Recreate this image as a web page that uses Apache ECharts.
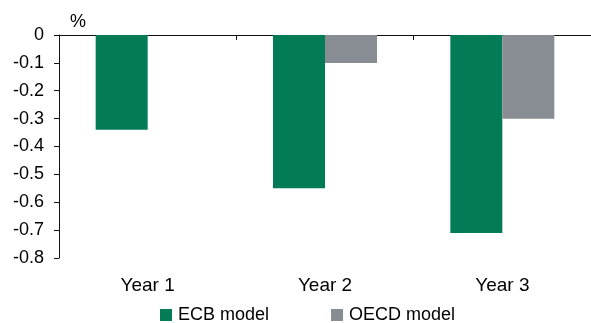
<!DOCTYPE html>
<html>
<head>
<meta charset="utf-8">
<script src="https://cdn.jsdelivr.net/npm/echarts@6/dist/echarts.min.js"></script>
<style>
  html, body { margin: 0; padding: 0; background: #fff; }
  #chart { width: 591px; height: 323px; }
</style>
</head>
<body>
<div id="chart"></div>
<script>
// Impact by year, in percent
const categories = ['Year 1', 'Year 2', 'Year 3'];
const ecbModel = [-0.34, -0.55, -0.71];
const oecdModel = [null, -0.1, -0.3];
const seriesNames = ['ECB model', 'OECD model'];
const unitLabel = '%';

const FONT = '"Liberation Sans", Arial, sans-serif';
const GREEN = '#047b57';
const GREY = '#878d92';

const chart = echarts.init(document.getElementById('chart'), null, { renderer: 'canvas' });

chart.setOption({
  animation: false,
  textStyle: { fontFamily: FONT, color: '#000' },
  grid: { left: 59, right: -4, top: 35, bottom: 65, containLabel: false },
  legend: {
    data: seriesNames,
    left: 160,
    top: 306,
    padding: 0,
    icon: 'rect',
    itemWidth: 12,
    itemHeight: 12,
    itemGap: 62,
    textStyle: { fontFamily: FONT, fontSize: 18, color: '#000', padding: [0, 0, 0, 1] }
  },
  graphic: [{
    type: 'text',
    left: 70,
    top: 13,
    style: { text: unitLabel, font: '18px ' + FONT, fill: '#000' }
  }],
  xAxis: [
    {
      // zero line with category dividers
      type: 'category',
      data: categories,
      position: 'top',
      axisLine: { show: true, onZero: false, lineStyle: { color: '#111', width: 1 } },
      axisTick: { show: true, inside: true, length: 5, alignWithLabel: false, lineStyle: { color: '#111' } },
      axisLabel: { show: false },
      splitLine: { show: false }
    },
    {
      // category labels below the plot
      type: 'category',
      data: categories,
      position: 'bottom',
      axisLine: { show: false },
      axisTick: { show: false },
      axisLabel: { show: true, margin: 18, fontSize: 19, fontFamily: FONT, color: '#000' },
      splitLine: { show: false }
    }
  ],
  yAxis: {
    type: 'value',
    min: -0.8,
    max: 0,
    interval: 0.1,
    axisLine: { show: true, lineStyle: { color: '#111', width: 1 } },
    axisTick: { show: true, inside: false, length: 5, lineStyle: { color: '#111' } },
    axisLabel: {
      margin: 15,
      fontSize: 18,
      fontFamily: FONT,
      color: '#000',
      formatter: v => (Math.abs(v) < 1e-9 ? '0' : v.toFixed(1))
    },
    splitLine: { show: false }
  },
  series: [
    {
      name: seriesNames[0],
      type: 'bar',
      xAxisIndex: 0,
      data: ecbModel,
      barWidth: 52,
      barGap: '0%',
      itemStyle: { color: GREEN }
    },
    {
      name: seriesNames[1],
      type: 'bar',
      xAxisIndex: 0,
      data: oecdModel,
      barWidth: 52,
      barGap: '0%',
      itemStyle: { color: GREY }
    }
  ]
});
</script>
</body>
</html>
